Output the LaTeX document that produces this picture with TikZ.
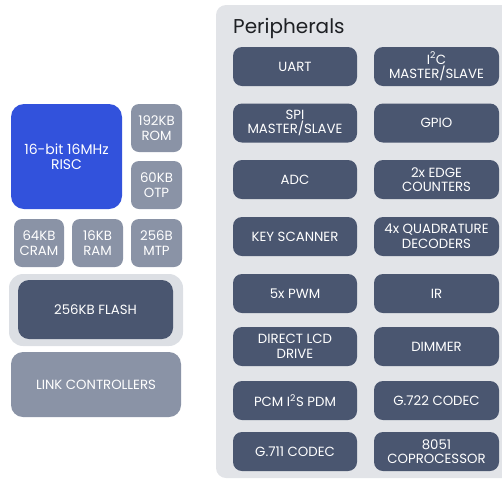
\documentclass[tikz,border=0pt]{standalone}
\usepackage{fontspec}
\setmainfont{Poppins}
\definecolor{riscblue}{RGB}{50,82,220}
\definecolor{memgray}{RGB}{138,147,166}
\definecolor{slate}{RGB}{74,86,112}
\definecolor{panelgray}{RGB}{226,228,232}
\definecolor{flashouter}{RGB}{220,223,228}
\definecolor{titletext}{RGB}{30,32,36}
\tikzset{
  base/.style={rounded corners=9pt, inner sep=0pt, align=center, text=white,
    font=\fontsize{13.3}{14.5}\selectfont},
  riscbox/.style={base, fill=riscblue, rounded corners=13pt, font=\fontsize{14}{15.5}\selectfont},
  membox/.style={base, fill=memgray, rounded corners=8pt},
  flashbox/.style={base, fill=slate, rounded corners=11pt},
  flashframe/.style={fill=flashouter, rounded corners=14pt, inner sep=0pt},
  perbox/.style={base, fill=slate, minimum height=39pt},
  pl/.style={perbox, minimum width=124pt},
  pr/.style={perbox, minimum width=125pt},
}
\begin{document}
\begin{tikzpicture}[x=1pt,y=-1pt]
\useasboundingbox (0,0) rectangle (502,480);
% peripherals panel
\fill[panelgray, rounded corners=10pt] (216,5) rectangle (540,478);
\node[anchor=base west, inner sep=0pt, text=titletext, font=\fontsize{20}{22}\selectfont] (title) at (233,33) {Peripherals};
% left column
\node[riscbox, minimum width=111pt, minimum height=105pt] (risc) at (66.5,156.5) {16-bit 16MHz\\RISC};
\node[membox, minimum width=51pt, minimum height=48pt] (rom) at (156.5,128) {192KB\\ROM};
\node[membox, minimum width=51pt, minimum height=48pt] (otp) at (156.5,185) {60KB\\OTP};
\node[membox, minimum width=50pt, minimum height=48pt] (cram) at (39,243) {64KB\\CRAM};
\node[membox, minimum width=51pt, minimum height=48pt] (ram) at (97.5,243) {16KB\\RAM};
\node[membox, minimum width=51pt, minimum height=48pt] (mtp) at (156.5,243) {256B\\MTP};
\node[flashframe, minimum width=174pt, minimum height=72pt] (flashouter) at (96,310) {};
\node[flashbox, minimum width=155pt, minimum height=59pt] (flash) at (95.5,309.5) {256KB FLASH};
\node[membox, rounded corners=12pt, minimum width=170pt, minimum height=65pt] (link) at (96,384.5) {LINK CONTROLLERS};
% peripherals
\node[pl] (uart) at (295,66.5) {UART};
\node[pr] (i2c) at (436.5,66.5) {I\textsuperscript{2}C\\MASTER/SLAVE};
\node[pl] (spi) at (295,123) {SPI\\MASTER/SLAVE};
\node[pr] (gpio) at (436.5,123) {GPIO};
\node[pl] (adc) at (295,179.5) {ADC};
\node[pr] (edge) at (436.5,179.5) {2x EDGE\\COUNTERS};
\node[pl] (key) at (295,236.5) {KEY SCANNER};
\node[pr] (quad) at (436.5,236.5) {4x QUADRATURE\\DECODERS};
\node[pl] (pwm) at (295,293.5) {5x PWM};
\node[pr] (ir) at (436.5,293.5) {IR};
\node[pl] (lcd) at (295,346.5) {DIRECT LCD\\DRIVE};
\node[pr] (dimmer) at (436.5,346.5) {DIMMER};
\node[pl] (pcm) at (295,400.5) {PCM I\textsuperscript{2}S PDM};
\node[pr] (g722) at (436.5,400.5) {G.722 CODEC};
\node[pl] (g711) at (295,451.5) {G.711 CODEC};
\node[pr] (cop) at (436.5,451.5) {8051\\COPROCESSOR};
\end{tikzpicture}
\end{document}
